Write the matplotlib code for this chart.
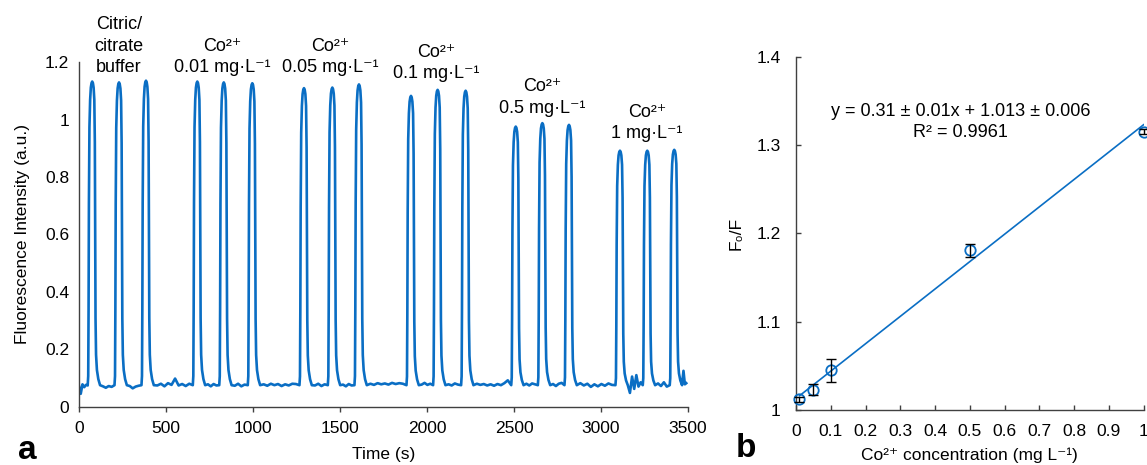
import matplotlib
matplotlib.use('Agg')
import matplotlib.pyplot as plt
import numpy as np
from matplotlib.ticker import MultipleLocator, FuncFormatter

plt.rcParams['font.family'] = ['Liberation Sans', 'DejaVu Sans']
plt.rcParams['font.size'] = 12

# ---------------- Panel a data ----------------
peak_times = [76, 230, 385, 680, 832, 996, 1293, 1456, 1609,
              1908, 2061, 2222, 2510, 2663, 2816, 3109, 3266, 3421]
peak_heights = [1.133, 1.130, 1.136, 1.133, 1.130, 1.127, 1.110, 1.112, 1.123,
                1.083, 1.104, 1.101, 0.976, 0.988, 0.982, 0.892, 0.892, 0.895]
# peak profile (time offset from apex, fraction of height)
profile_dt = [-26, -23, -21, -19, -16, -12, -8, -4, 0, 4, 8, 12, 15, 17, 19, 22, 27, 35, 45]
profile_frac = [0, 0.03, 0.25, 0.6, 0.85, 0.94, 0.98, 0.995, 1, 0.995, 0.98, 0.94,
                0.8, 0.5, 0.22, 0.1, 0.05, 0.02, 0]
baseline_level = 0.075
end_time = 3490
# baseline samples in each gap between peaks
gap_values = [
    [0.072, 0.045, 0.078, 0.068, 0.076, 0.074],
    [0.071, 0.066, 0.072, 0.069],
    [0.072, 0.064, 0.070, 0.073],
    [0.074, 0.080, 0.071, 0.082, 0.076, 0.098, 0.074, 0.079, 0.072, 0.080],
    [0.078, 0.071, 0.079, 0.074],
    [0.073, 0.080, 0.071, 0.077],
    [0.078, 0.073, 0.080, 0.075, 0.079, 0.072, 0.078, 0.074, 0.080, 0.079],
    [0.074, 0.080, 0.072, 0.078],
    [0.077, 0.071, 0.079, 0.074],
    [0.080, 0.076, 0.082, 0.078, 0.081, 0.077, 0.083, 0.079, 0.082, 0.080],
    [0.077, 0.083, 0.076, 0.080],
    [0.078, 0.074, 0.081, 0.077],
    [0.080, 0.076, 0.079, 0.074, 0.078, 0.073, 0.079, 0.075, 0.082, 0.092],
    [0.080, 0.074, 0.081, 0.078],
    [0.079, 0.072, 0.080, 0.083],
    [0.082, 0.074, 0.080, 0.069, 0.078, 0.071, 0.079, 0.073, 0.081, 0.076],
    [0.048, 0.105, 0.062, 0.110, 0.070, 0.085],
    [0.081, 0.072, 0.085, 0.070],
    [0.080, 0.125, 0.078, 0.082],
]

labels_a = [
    (230, ["Citric/", "citrate", "buffer"], [1.316, 1.239, 1.166]),
    (825, ["Co²⁺", "0.01 mg·L⁻¹"], [1.239, 1.166]),
    (1442, ["Co²⁺", "0.05 mg·L⁻¹"], [1.239, 1.166]),
    (2055, ["Co²⁺", "0.1 mg·L⁻¹"], [1.218, 1.145]),
    (2664, ["Co²⁺", "0.5 mg·L⁻¹"], [1.100, 1.023]),
    (3264, ["Co²⁺", "1 mg·L⁻¹"], [1.009, 0.936]),
]

# ---------------- Panel b data ----------------
conc = [0.01, 0.05, 0.1, 0.5, 1.0]
ratio = [1.012, 1.023, 1.045, 1.181, 1.315]
ratio_err = [0.003, 0.006, 0.013, 0.0075, 0.003]
fit_slope = 0.31
fit_intercept = 1.013

blue = '#0A6EC4'
spine_c = '#404040'

# build trace
t_all, y_all = [], []
n_gaps = len(gap_values)
for i in range(n_gaps):
    start = 0 if i == 0 else peak_times[i - 1] + profile_dt[-1]
    end = end_time if i == n_gaps - 1 else peak_times[i] + profile_dt[0]
    vals = gap_values[i]
    if i == 0 or i == n_gaps - 1:
        ts = np.linspace(start, end, len(vals))
    else:
        ts = np.linspace(start, end, len(vals) + 2)[1:-1]
    t_all.extend(ts)
    y_all.extend(vals)
    if i < len(peak_times):
        tp, h = peak_times[i], peak_heights[i]
        for dt, fr in zip(profile_dt, profile_frac):
            t_all.append(tp + dt)
            y_all.append(baseline_level + fr * (h - baseline_level))

W, H = 1147, 465
fig = plt.figure(figsize=(W / 100, H / 100), dpi=100)

# ---- panel a ----
ax1 = fig.add_axes([79 / W, 1 - 406.7 / H, (688 - 79) / W, (406.7 - 62.3) / H])
ax1.plot(t_all, y_all, color=blue, lw=1.9, solid_joinstyle='round')
ax1.set_xlim(0, 3500)
ax1.set_ylim(0, 1.2)
ax1.xaxis.set_major_locator(MultipleLocator(500))
ax1.yaxis.set_major_locator(MultipleLocator(0.2))
fmt = FuncFormatter(lambda v, p: ('%g' % round(v, 3)))
ax1.yaxis.set_major_formatter(fmt)
for s in ['top', 'right']:
    ax1.spines[s].set_visible(False)
for s in ['left', 'bottom']:
    ax1.spines[s].set_color(spine_c)
    ax1.spines[s].set_linewidth(1.0)
ax1.tick_params(axis='x', direction='out', length=3.5, width=1, color=spine_c, pad=7, labelsize=12.5)
ax1.tick_params(axis='y', length=0, pad=7, labelsize=12.5)
ax1.set_xlabel('Time (s)', fontsize=12.5, labelpad=8)
ax1.set_ylabel('Fluorescence Intensity (a.u.)', fontsize=12.5)
ax1.yaxis.set_label_coords(-0.08, 0.5)

for x, lines, ys in labels_a:
    for txt, yy in zip(lines, ys):
        ax1.text(x, yy, txt, ha='center', va='baseline', fontsize=13, clip_on=False)

# ---- panel b ----
ax2 = fig.add_axes([796 / W, 1 - 410 / H, (1143.6 - 796) / W, (410 - 56.7) / H])
xf = np.array([conc[0], conc[-1]])
ax2.plot(xf, fit_slope * xf + fit_intercept, color=blue, lw=1.2, zorder=2)
ax2.plot(conc, ratio, 'o', mfc='none', mec=blue, ms=7.5, mew=1.3, zorder=3, clip_on=False)
ax2.errorbar(conc, ratio, yerr=ratio_err, fmt='none', ecolor='black', elinewidth=1.0,
             capsize=3.5, capthick=1.0, zorder=4, clip_on=False)
ax2.set_xlim(0, 1)
ax2.set_ylim(1, 1.4)
ax2.xaxis.set_major_locator(MultipleLocator(0.1))
ax2.yaxis.set_major_locator(MultipleLocator(0.1))
ax2.xaxis.set_major_formatter(fmt)
ax2.yaxis.set_major_formatter(fmt)
for s in ['top', 'right']:
    ax2.spines[s].set_visible(False)
for s in ['left', 'bottom']:
    ax2.spines[s].set_color(spine_c)
    ax2.spines[s].set_linewidth(1.0)
ax2.tick_params(axis='both', direction='in', length=3.5, width=1, color=spine_c, labelsize=12.5)
ax2.tick_params(axis='x', pad=10)
ax2.tick_params(axis='y', pad=11)
ax2.set_xlabel('Co²⁺ concentration (mg L⁻¹)', fontsize=12.5, labelpad=6)
ax2.set_ylabel('F₀/F', fontsize=12.5)
ax2.yaxis.set_label_coords(-0.152, 0.5)
ax2.text(0.474, 1.3375, 'y = 0.31 ± 0.01x + 1.013 ± 0.006', ha='center', va='center', fontsize=13)
ax2.text(0.474, 1.3137, 'R² = 0.9961', ha='center', va='center', fontsize=13)

fig.text(27 / W, 1 - 450 / H, 'a', fontsize=24, fontweight='bold', ha='center', va='center')
fig.text(746 / W, 1 - 448 / H, 'b', fontsize=24, fontweight='bold', ha='center', va='center')

fig.savefig('out.png', dpi=100)
